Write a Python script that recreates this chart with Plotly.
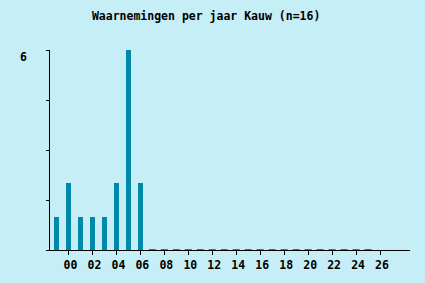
import plotly.graph_objects as go

years = list(range(1999, 2027))
counts = [1, 2, 1, 1, 1, 2, 6, 2] + [0] * 19
x_tick_vals = list(range(2000, 2027, 2))
x_tick_labels = [f"{y % 100:02d}" for y in x_tick_vals]
y_tick_vals = [0, 1.5, 3, 4.5, 6]
y_tick_labels = ["", "", "", "", "6"]
title = "Waarnemingen per jaar Kauw (n=16)"

BG = "#c6eef7"
BAR = "#0088a8"
FONT = "DejaVu Sans Mono"

nz_x = [y for y, c in zip(years, counts) if c > 0]
nz_y = [c for c in counts if c > 0]
z_x = [y for y, c in zip(years, counts) if c == 0]
z_y = [c for c in counts if c == 0]

fig = go.Figure()
fig.add_trace(go.Bar(x=nz_x, y=nz_y, width=0.45, marker=dict(color=BAR, line=dict(width=0))))
fig.add_trace(go.Scatter(x=z_x, y=z_y, mode="markers",
                         marker=dict(symbol="line-ew", size=5, color=BAR,
                                     line=dict(color=BAR, width=2)),
                         cliponaxis=False))

fig.update_layout(
    width=425, height=283,
    paper_bgcolor=BG, plot_bgcolor=BG,
    margin=dict(l=50, r=15, t=50, b=33),
    showlegend=False,
    font=dict(family=FONT, size=11, color="#000000"),
    title=dict(text="<b>" + title + "</b>", x=0.485, xanchor="center", y=0.945, yanchor="middle",
               font=dict(family=FONT, size=11.5, color="#000000")),
    bargap=0,
)
fig.update_xaxes(range=[1998.46, 2028.5], tickvals=x_tick_vals,
                 ticktext=["<b>" + t + "</b>" for t in x_tick_labels],
                 showgrid=False, zeroline=False, showline=True, linecolor="#000000", linewidth=1,
                 ticks="outside", ticklen=4, tickcolor="#000000", tickwidth=1,
                 ticklabelshift=2,
                 tickfont=dict(family=FONT, size=11.5, color="#000000"))
fig.update_yaxes(range=[0, 6], tickvals=y_tick_vals, ticktext=y_tick_labels,
                 showgrid=False, zeroline=False, showline=True, linecolor="#000000", linewidth=1,
                 ticks="outside", ticklen=3, tickcolor="#000000", tickwidth=1,
                 showticklabels=False)
fig.add_annotation(xref="paper", yref="y", x=0, y=y_tick_vals[-1], xshift=-21, yshift=-7,
                   xanchor="right", yanchor="middle", showarrow=False,
                   text="<b>" + y_tick_labels[-1] + "</b>",
                   font=dict(family=FONT, size=11.5, color="#000000"))

fig.write_html("out.html")
